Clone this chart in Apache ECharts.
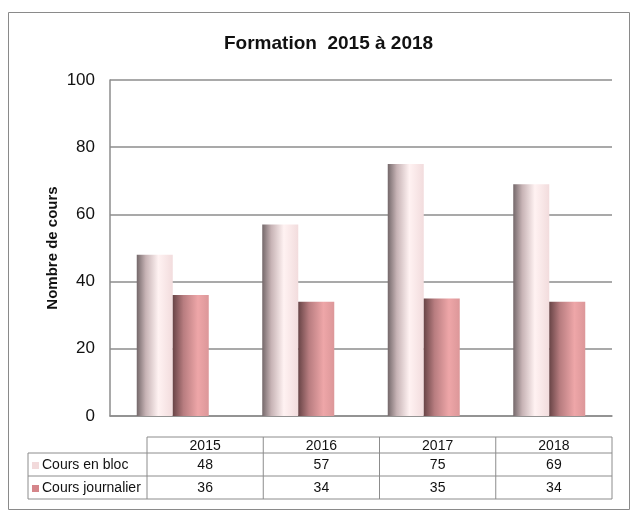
<!DOCTYPE html>
<html><head><meta charset="utf-8">
<script src="https://cdn.jsdelivr.net/npm/echarts@6/dist/echarts.min.js"></script>
<style>html,body{margin:0;padding:0;background:#fff}#c{width:633px;height:511px}</style>
</head><body><div id="c"></div>
<script>
const categories = ['2015', '2016', '2017', '2018'];
const seriesNames = ['Cours en bloc', 'Cours journalier'];
const bloc = [48, 57, 75, 69];
const journalier = [36, 34, 35, 34];

const chart = echarts.init(document.getElementById('c'), null, {renderer: 'canvas'});
const FONT = '"Liberation Sans", Arial, sans-serif';

function grad(stops) {
  return new echarts.graphic.LinearGradient(0, 0, 1, 0, stops.map((c, i) => ({offset: c[0], color: c[1]})));
}
const blocColor = grad([[0, '#74686a'], [0.25, '#c7b3b5'], [0.6, '#fff2f2'], [1, '#f2dcdd']]);
const journColor = grad([[0, '#684446'], [0.3, '#b87d80'], [0.7, '#eea6a8'], [1, '#dc9799']]);
const keyColors = ['#f2dadb', '#d5858a'];

// table layout
const tL = 28, tC = 147, tR = 612, rows = [437, 453, 476, 499];
const colW = (tR - tC) / categories.length;
const g = [];
const lineStyle = {stroke: '#8c8c8c', lineWidth: 1};
function hline(x1, x2, y) { g.push({type: 'line', shape: {x1, y1: y, x2, y2: y}, style: lineStyle, silent: true}); }
function vline(x, y1, y2) { g.push({type: 'line', shape: {x1: x, y1, x2: x, y2}, style: lineStyle, silent: true}); }
hline(tC, tR, rows[0]);
hline(tL, tR, rows[1]);
hline(tL, tR, rows[2]);
hline(tL, tR, rows[3]);
vline(tL, rows[1], rows[3]);
for (let i = 0; i <= categories.length; i++) vline(tC + i * colW, rows[0], rows[3]);
function txt(x, y, t, align) {
  g.push({type: 'text', x, y, silent: true, style: {text: t, font: '14px ' + FONT, fill: '#111', align: align || 'center', verticalAlign: 'middle'}});
}
categories.forEach((c, i) => txt(tC + (i + 0.5) * colW, (rows[0] + rows[1]) / 2 + 1, c));
const tableData = [bloc, journalier];
tableData.forEach((arr, r) => {
  const yc = (rows[r + 1] + rows[r + 2]) / 2 + 1;
  g.push({type: 'rect', shape: {x: 32, y: yc - 3.5, width: 7, height: 7}, style: {fill: keyColors[r]}, silent: true});
  txt(42, yc, seriesNames[r], 'left');
  arr.forEach((v, i) => txt(tC + (i + 0.5) * colW, yc, String(v)));
});
// outer border
g.push({type: 'rect', shape: {x: 8.5, y: 12.5, width: 621, height: 497}, style: {fill: null, stroke: '#8a8a8a', lineWidth: 1}, silent: true, z: -1});

chart.setOption({
  animation: false,
  backgroundColor: '#fff',
  title: {text: 'Formation  2015 à 2018', left: 219, top: 29,
    textStyle: {fontFamily: FONT, fontSize: 19, fontWeight: 'bold', color: '#111'}},
  grid: {left: 110, right: 21, top: 80, bottom: 95, containLabel: false},
  xAxis: {type: 'category', data: categories,
    axisLine: {show: true, lineStyle: {color: '#8c8c8c', width: 1.5}},
    axisTick: {show: false}, axisLabel: {show: false}, splitLine: {show: false}},
  yAxis: {type: 'value', min: 0, max: 100, interval: 20,
    name: 'Nombre de cours', nameLocation: 'middle', nameGap: 50, nameRotate: 90, nameMoveOverlap: false,
    nameTextStyle: {fontFamily: FONT, fontSize: 15, fontWeight: 'bold', color: '#111'},
    axisLine: {show: true, lineStyle: {color: '#8c8c8c', width: 1.5}},
    axisTick: {show: false},
    axisLabel: {fontFamily: FONT, fontSize: 17, color: '#111', margin: 15},
    splitLine: {lineStyle: {color: '#8c8c8c', width: 1.5}}},
  series: [
    {name: seriesNames[0], type: 'bar', data: bloc, barWidth: 36, barGap: '0%', itemStyle: {color: blocColor}},
    {name: seriesNames[1], type: 'bar', data: journalier, barWidth: 36, barGap: '0%', itemStyle: {color: journColor}}
  ],
  graphic: g
});
</script></body></html>
